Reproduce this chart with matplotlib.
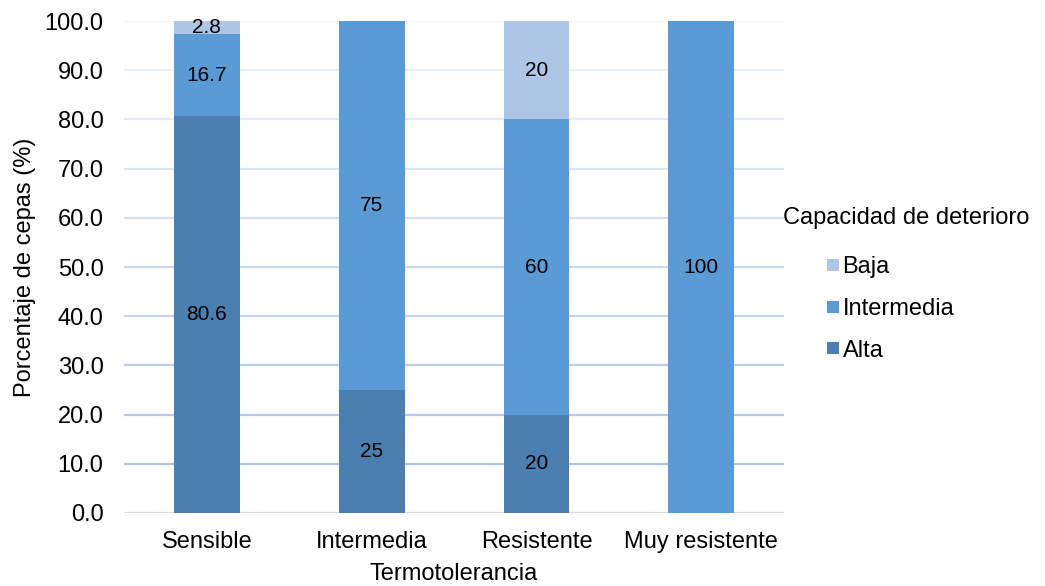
import matplotlib
matplotlib.use("Agg")
import matplotlib.pyplot as plt
from matplotlib.lines import Line2D
import numpy as np

plt.rcParams['font.family'] = ['Liberation Sans', 'DejaVu Sans']

categories = ["Sensible", "Intermedia", "Resistente", "Muy resistente"]
alta = [80.6, 25, 20, 0]
intermedia = [16.7, 75, 60, 100]
baja = [2.8, 0, 20, 0]

alta_labels = ["80.6", "25", "20", ""]
inter_labels = ["16.7", "75", "60", "100"]
baja_labels = ["2.8", "", "20", ""]

c_alta = "#4a7fb0"
c_inter = "#5b9bd5"
c_baja = "#adc6e5"

W, H = 1045, 586
fig = plt.figure(figsize=(W / 100, H / 100), dpi=100)
ax = fig.add_axes([0.119, 0.1246, 0.631, 0.8395])

x = np.arange(len(categories))
w = 0.4

# gridlines fading toward the top
for v in range(10, 101, 10):
    a = 1.0 - (v - 10) / 90 * 0.85
    ax.axhline(v, color="#aec4e6", lw=1.6, alpha=a, zorder=0)
ax.axhline(0, color="#d9d9d9", lw=1.6, zorder=1)

b1 = ax.bar(x, alta, w, color=c_alta, label="Alta", zorder=2)
b2 = ax.bar(x, intermedia, w, bottom=alta, color=c_inter, label="Intermedia", zorder=2)
bottom3 = np.array(alta) + np.array(intermedia)
b3 = ax.bar(x, baja, w, bottom=bottom3, color=c_baja, label="Baja", zorder=2)

fs = 17
dfs = 15
for i in range(len(categories)):
    if alta[i] > 0:
        ax.text(x[i], alta[i] / 2, alta_labels[i], ha="center", va="center", fontsize=dfs, zorder=3)
    if intermedia[i] > 0:
        ax.text(x[i], alta[i] + intermedia[i] / 2, inter_labels[i], ha="center", va="center", fontsize=dfs, zorder=3)
    if baja[i] > 0:
        ax.text(x[i], bottom3[i] + baja[i] / 2, baja_labels[i], ha="center", va="center", fontsize=dfs, zorder=3)

ax.set_xlim(-0.5, len(categories) - 0.5)
ax.set_ylim(0, 100)
ax.set_yticks(np.arange(0, 101, 10))
ax.set_yticklabels([f"{v:.1f}" for v in np.arange(0, 101, 10)], fontsize=fs)
ax.set_xticks(x)
ax.set_xticklabels(categories, fontsize=fs)
ax.tick_params(length=0)
ax.tick_params(axis="x", pad=13)
ax.tick_params(axis="y", pad=15)
for s in ax.spines.values():
    s.set_visible(False)

ax.set_xlabel("Termotolerancia", fontsize=fs, labelpad=7)
ax.set_ylabel("Porcentaje de cepas (%)", fontsize=fs, labelpad=6)

# legend: title and entries
fig.text(783 / W, 1 - 218 / H, "Capacidad de deterioro", fontsize=fs, ha="left", va="center")
handles = [Line2D([], [], ls="none", marker="s", markersize=8, markeredgewidth=0, color=c)
           for c in (c_baja, c_inter, c_alta)]
fig.legend(handles=handles, labels=["Baja", "Intermedia", "Alta"],
           loc="upper left", bbox_to_anchor=(826 / W, 1 - 256 / H),
           frameon=False, fontsize=fs, borderpad=0, handlelength=0.6,
           handletextpad=0.1, labelspacing=0.84, borderaxespad=0)

fig.savefig("out.png", dpi=100)
